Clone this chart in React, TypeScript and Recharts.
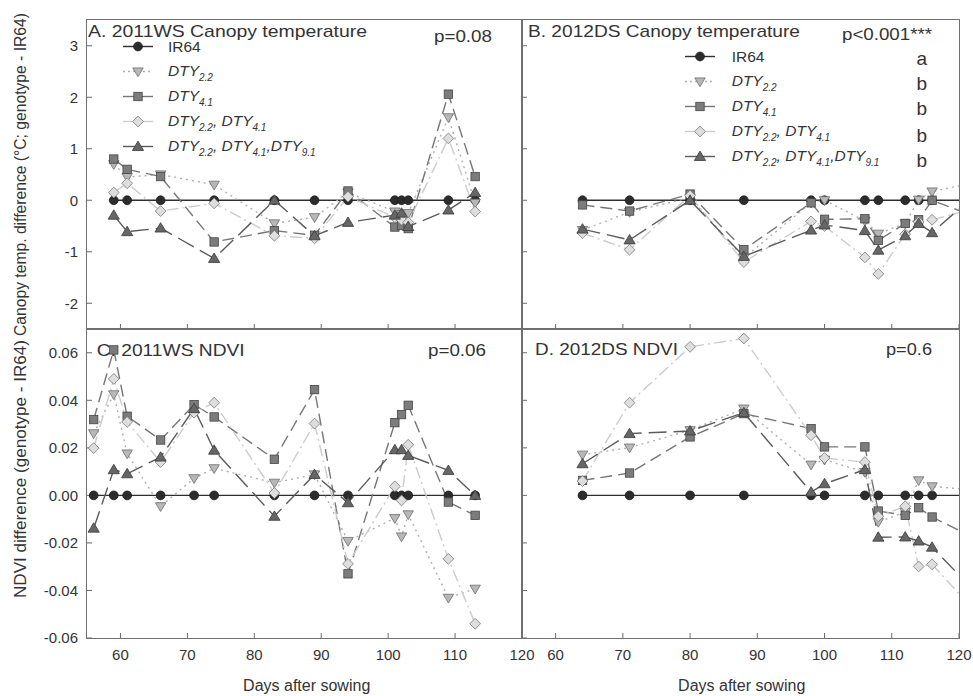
import React from 'react';
import { LineChart, Line, XAxis, YAxis, Legend } from 'recharts';

const FONT = '"Liberation Sans", Arial, Helvetica, sans-serif';

// ---- data ----
// A. 2011WS canopy temperature difference (°C; genotype - IR64)
const daysA = [59, 61, 66, 74, 83, 89, 94, 101, 102, 103, 109, 113];
const ir64A = [0, 0, 0, 0, 0, 0, 0, 0, 0, 0, 0, 0];
const d22A = [0.7, 0.45, 0.5, 0.3, -0.45, -0.33, 0.15, -0.22, -0.27, -0.25, 1.61, -0.05];
const d41A = [0.8, 0.6, 0.46, -0.81, -0.59, -0.68, 0.18, -0.52, -0.49, -0.55, 2.06, 0.46];
const d2241A = [0.15, 0.33, -0.21, -0.06, -0.69, -0.74, 0.07, -0.33, -0.38, -0.43, 1.2, -0.22];
const d3A = [-0.29, -0.61, -0.54, -1.13, 0.0, -0.69, -0.43, -0.29, -0.25, -0.51, -0.19, 0.15];

// B. 2012DS canopy temperature difference
const daysB = [64, 71, 80, 88, 98, 100, 106, 108, 112, 114, 116, 120];
const ir64B = [0, 0, 0, 0, 0, 0, 0, 0, 0, 0, 0, 0];
const d22B = [-0.58, -0.23, 0.05, -1.12, -0.05, 0.0, -0.4, -0.65, -0.45, 0.01, 0.17, 0.28];
const d41B = [-0.09, -0.21, 0.12, -0.96, -0.05, -0.37, -0.36, -0.78, -0.45, -0.38, 0.0, -0.2];
const d2241B = [-0.64, -0.96, 0.09, -1.2, -0.41, -0.5, -1.11, -1.43, -0.66, -0.42, -0.38, -0.24];
const d3B = [-0.56, -0.77, 0.0, -1.09, -0.58, -0.48, -0.59, -0.97, -0.69, -0.45, -0.63, -0.17];

// C. 2011WS NDVI difference
const daysC = [56, 59, 61, 66, 71, 74, 83, 89, 94, 101, 102, 103, 109, 113];
const ir64C = [0, 0, 0, 0, 0, 0, 0, 0, 0, 0, 0, 0, 0, 0];
const d22C = [0.0261, 0.0425, 0.0176, -0.0046, 0.0072, 0.0114, 0.0053, 0.0088, -0.0192, -0.0096, -0.0173, -0.008, -0.0431, -0.0393];
const d41C = [0.0319, 0.0612, 0.0333, 0.0233, 0.0382, 0.033, 0.0152, 0.0445, -0.033, 0.0306, 0.034, 0.0379, -0.0028, -0.0084];
const d2241C = [0.0199, 0.049, 0.0309, 0.014, 0.0348, 0.039, 0.001, 0.0302, -0.0288, 0.0038, -0.0021, 0.0213, -0.0267, -0.054];
const d3C = [-0.0138, 0.0108, 0.0091, 0.0161, 0.0365, 0.019, -0.0088, 0.0088, -0.0031, 0.0192, 0.0192, 0.0168, 0.0105, 0.0];

// D. 2012DS NDVI difference
const daysD = [64, 71, 80, 88, 98, 100, 106, 108, 112, 114, 116, 120];
const ir64D = [0, 0, 0, 0, 0, 0, 0, 0, 0, 0, 0, 0];
const d22D = [0.0171, 0.0201, 0.0274, 0.0365, 0.0129, 0.015, 0.0098, -0.0112, -0.007, 0.0063, 0.0038, 0.0028];
const d41D = [0.0063, 0.0094, 0.0246, 0.0344, 0.0281, 0.0204, 0.0204, -0.0066, -0.0084, -0.0052, -0.0091, -0.0147];
const d2241D = [0.006, 0.039, 0.0625, 0.066, 0.0253, 0.0157, 0.014, -0.0088, -0.0046, -0.0299, -0.029, -0.0414];
const d3D = [0.0133, 0.026, 0.0271, 0.0348, 0.0014, 0.0049, 0.0108, -0.0176, -0.0175, -0.0192, -0.0218, -0.0335];

const xTicks = [60, 70, 80, 90, 100, 110, 120];
const tempTicks = [-2, -1, 0, 1, 2, 3];
const ndviTicks = [-0.06, -0.04, -0.02, 0, 0.02, 0.04, 0.06];
const groupLetters = ['a', 'b', 'b', 'b', 'b'];

function toRows(days: number[], ir64: number[], d22: number[], d41: number[], d2241: number[], d3: number[]) {
  return days.map((day, i) => ({ day, ir64: ir64[i], d22: d22[i], d41: d41[i], d2241: d2241[i], d3: d3[i] }));
}

const rowsA = toRows(daysA, ir64A, d22A, d41A, d2241A, d3A);
const rowsB = toRows(daysB, ir64B, d22B, d41B, d2241B, d3B);
const rowsC = toRows(daysC, ir64C, d22C, d41C, d2241C, d3C);
const rowsD = toRows(daysD, ir64D, d22D, d41D, d2241D, d3D);

// ---- styling ----
type Shape = 'circle' | 'down' | 'square' | 'diamond' | 'up';
const SERIES: { key: string; stroke: string; dash?: string; legendDash?: string; shape: Shape; fill: string; edge: string }[] = [
  { key: 'ir64', stroke: '#2e2e2e', shape: 'circle', fill: '#2c2c2c', edge: '#1c1c1c' },
  { key: 'd22', stroke: '#b0b0b0', dash: '2 4', legendDash: '2 3', shape: 'down', fill: '#b8b8b8', edge: '#6c6c6c' },
  { key: 'd41', stroke: '#767676', dash: '12 6', shape: 'square', fill: '#7c7c7c', edge: '#454545' },
  { key: 'd2241', stroke: '#cccccc', dash: '12 4 2 4', shape: 'diamond', fill: '#dedede', edge: '#777777' },
  { key: 'd3', stroke: '#5a5a5a', dash: '18 7', shape: 'up', fill: '#666666', edge: '#3a3a3a' },
];

function Marker({ shape, x, y, fill, edge }: { shape: Shape; x: number; y: number; fill: string; edge: string }) {
  const common = { fill, stroke: edge, strokeWidth: 0.8 };
  if (shape === 'circle') return <circle cx={x} cy={y} r={4.4} {...common} />;
  if (shape === 'square') return <rect x={x - 4.2} y={y - 4.2} width={8.4} height={8.4} {...common} />;
  if (shape === 'diamond')
    return <polygon points={`${x},${y - 5.4} ${x + 5.4},${y} ${x},${y + 5.4} ${x - 5.4},${y}`} {...common} />;
  if (shape === 'down')
    return <polygon points={`${x - 5.2},${y - 3.6} ${x + 5.2},${y - 3.6} ${x},${y + 5.2}`} {...common} />;
  return <polygon points={`${x - 5.6},${y + 4} ${x + 5.6},${y + 4} ${x},${y - 5.4}`} {...common} />;
}

function makeDot(s: (typeof SERIES)[number]) {
  return (p: any) => {
    const k = `${s.key}-${p.index}`;
    if (p.cx == null || p.cy == null || p.payload.day >= 120) return <g key={k} />;
    return (
      <g key={k}>
        <Marker shape={s.shape} x={p.cx} y={p.cy} fill={s.fill} edge={s.edge} />
      </g>
    );
  };
}

const Sub = ({ children }: { children: React.ReactNode }) => (
  <span style={{ fontSize: 10, position: 'relative', top: 5 }}>{children}</span>
);
const Dty = ({ n }: { n: string }) => (
  <i>
    DTY<Sub>{n}</Sub>
  </i>
);
const LABELS: Record<string, React.ReactNode> = {
  ir64: 'IR64',
  d22: <Dty n="2.2" />,
  d41: <Dty n="4.1" />,
  d2241: (
    <>
      <Dty n="2.2" />
      <i>, </i>
      <Dty n="4.1" />
    </>
  ),
  d3: (
    <>
      <Dty n="2.2" />
      <i>, </i>
      <Dty n="4.1" />
      <i>,</i>
      <Dty n="9.1" />
    </>
  ),
};

function LegendBox({ gap }: { gap: number }) {
  return (
    <div style={{ fontFamily: FONT, fontSize: 15.5, color: '#333' }}>
      {SERIES.map((s) => (
        <div key={s.key} style={{ display: 'flex', alignItems: 'center', height: 25 }}>
          <svg width={30} height={25} style={{ display: 'block' }}>
            <line x1={0} x2={30} y1={12.5} y2={12.5} stroke={s.stroke} strokeWidth={1.4} strokeDasharray={s.legendDash} />
            <Marker shape={s.shape} x={15} y={12.5} fill={s.fill} edge={s.edge} />
          </svg>
          <div style={{ marginLeft: gap, whiteSpace: 'nowrap', lineHeight: '25px' }}>{LABELS[s.key]}</div>
        </div>
      ))}
    </div>
  );
}

const AXIS_W = 60;
const PAD_T = 10;
const PAD_R = 14;
const AXIS_H = 40;
const tickStyle = { fontSize: 15, fill: '#333', fontFamily: FONT };

type PanelProps = {
  rows: any[];
  x0: number;
  x1: number;
  y0: number;
  y1: number;
  yDomain: [number, number];
  yTicks: number[];
  fmtY: (v: number) => string;
  showX: boolean;
  showY: boolean;
  legend?: { left: number; top: number; gap: number };
};

function Panel({ rows, x0, x1, y0, y1, yDomain, yTicks, fmtY, showX, showY, legend }: PanelProps) {
  const w = x1 - x0;
  const h = y1 - y0;
  return (
    <>
      <div style={{ position: 'absolute', left: x0 - AXIS_W, top: y0 - PAD_T }}>
        <LineChart
          width={w + AXIS_W + PAD_R}
          height={h + PAD_T + AXIS_H}
          data={rows}
          margin={{ top: PAD_T, right: PAD_R, bottom: 0, left: 0 }}
          style={{ overflow: 'visible' }}
        >
          <XAxis
            dataKey="day"
            type="number"
            domain={[55, 120]}
            ticks={xTicks}
            height={AXIS_H}
            axisLine={false}
            tickLine={{ stroke: '#6a6a6a' }}
            tickSize={-5}
            tickMargin={16}
            tick={tickStyle}
            tickFormatter={(v) => (showX ? String(v) : '')}
            interval={0}
          />
          <YAxis
            type="number"
            domain={yDomain}
            ticks={yTicks}
            width={AXIS_W}
            axisLine={false}
            tickLine={{ stroke: '#6a6a6a' }}
            tickSize={-5}
            tickMargin={14}
            tick={tickStyle}
            tickFormatter={(v) => (showY ? fmtY(v) : '')}
            interval={0}
          />
          {legend && (
            <Legend
              layout="vertical"
              align="center"
              verticalAlign="middle"
              wrapperStyle={{ left: legend.left, top: legend.top, width: 'auto', height: 'auto' }}
              content={() => <LegendBox gap={legend.gap} />}
            />
          )}
          {SERIES.map((s) => (
            <Line
              key={s.key}
              dataKey={s.key}
              type="linear"
              stroke={s.stroke}
              strokeWidth={1.4}
              strokeDasharray={s.dash}
              dot={makeDot(s)}
              activeDot={false}
              isAnimationActive={false}
              legendType="none"
            />
          ))}
        </LineChart>
      </div>
      <div
        style={{
          position: 'absolute',
          left: x0 - 0.75,
          top: y0 - 0.75,
          width: w + 1.5,
          height: h + 1.5,
          border: '1.5px solid #707070',
          boxSizing: 'border-box',
          pointerEvents: 'none',
        }}
      />
    </>
  );
}

const XM = 522;
const YM = 329;

export default function App() {
  const t = { fontFamily: FONT, fill: '#333' };
  return (
    <div style={{ position: 'absolute', left: 0, top: 0, width: 973, height: 696, background: '#fff', overflow: 'hidden' }}>
      <svg width={973} height={696} style={{ position: 'absolute', left: 0, top: 0 }}>
        <text {...t} x={88} y={36.5} fontSize={17} textLength={279} lengthAdjust="spacingAndGlyphs">
          A. 2011WS Canopy temperature
        </text>
        <text {...t} x={434} y={41.5} fontSize={17} textLength={58} lengthAdjust="spacingAndGlyphs">
          p=0.08
        </text>
        <text {...t} x={528} y={37} fontSize={17} textLength={272} lengthAdjust="spacingAndGlyphs">
          B. 2012DS Canopy temperature
        </text>
        <text {...t} x={842} y={40} fontSize={17} textLength={90} lengthAdjust="spacingAndGlyphs">
          p&lt;0.001***
        </text>
        <text {...t} x={96.7} y={355.5} fontSize={17} textLength={148} lengthAdjust="spacingAndGlyphs">
          C. 2011WS NDVI
        </text>
        <text {...t} x={428} y={355.5} fontSize={17} textLength={58} lengthAdjust="spacingAndGlyphs">
          p=0.06
        </text>
        <text {...t} x={535} y={355} fontSize={17} textLength={143} lengthAdjust="spacingAndGlyphs">
          D. 2012DS NDVI
        </text>
        <text {...t} x={886} y={355} fontSize={17} textLength={46} lengthAdjust="spacingAndGlyphs">
          p=0.6
        </text>
        {groupLetters.map((g, i) => (
          <text key={i} {...t} x={921.7} y={[65, 90, 115, 141.5, 166.5][i]} fontSize={19} textAnchor="middle">
            {g}
          </text>
        ))}
        <text
          {...t}
          fontSize={16}
          textAnchor="middle"
          transform="translate(26,174.5) rotate(-90)"
          textLength={323}
          lengthAdjust="spacingAndGlyphs"
        >
          Canopy temp. difference (°C; genotype - IR64)
        </text>
        <text
          {...t}
          fontSize={16}
          textAnchor="middle"
          transform="translate(26,469) rotate(-90)"
          textLength={258}
          lengthAdjust="spacingAndGlyphs"
        >
          NDVI difference (genotype - IR64)
        </text>
        <text {...t} x={306.7} y={691} fontSize={16} textAnchor="middle">
          Days after sowing
        </text>
        <text {...t} x={741.7} y={691} fontSize={16} textAnchor="middle">
          Days after sowing
        </text>
      </svg>

      <Panel
        rows={rowsA}
        x0={87}
        x1={XM}
        y0={20}
        y1={YM}
        yDomain={[-2.5, 3.5]}
        yTicks={tempTicks}
        fmtY={(v) => String(v)}
        showX={false}
        showY={true}
        legend={{ left: 123 - (87 - AXIS_W), top: 34.2 - (20 - PAD_T), gap: 15 }}
      />
      <Panel
        rows={rowsB}
        x0={XM}
        x1={959}
        y0={20}
        y1={YM}
        yDomain={[-2.5, 3.5]}
        yTicks={tempTicks}
        fmtY={(v) => String(v)}
        showX={false}
        showY={false}
        legend={{ left: 685 - (XM - AXIS_W), top: 44.2 - (20 - PAD_T), gap: 16.7 }}
      />
      <Panel
        rows={rowsC}
        x0={87}
        x1={XM}
        y0={YM}
        y1={638}
        yDomain={[-0.06, 0.07]}
        yTicks={ndviTicks}
        fmtY={(v) => v.toFixed(2)}
        showX={true}
        showY={true}
      />
      <Panel
        rows={rowsD}
        x0={XM}
        x1={959}
        y0={YM}
        y1={638}
        yDomain={[-0.06, 0.07]}
        yTicks={ndviTicks}
        fmtY={(v) => v.toFixed(2)}
        showX={true}
        showY={false}
      />
    </div>
  );
}
